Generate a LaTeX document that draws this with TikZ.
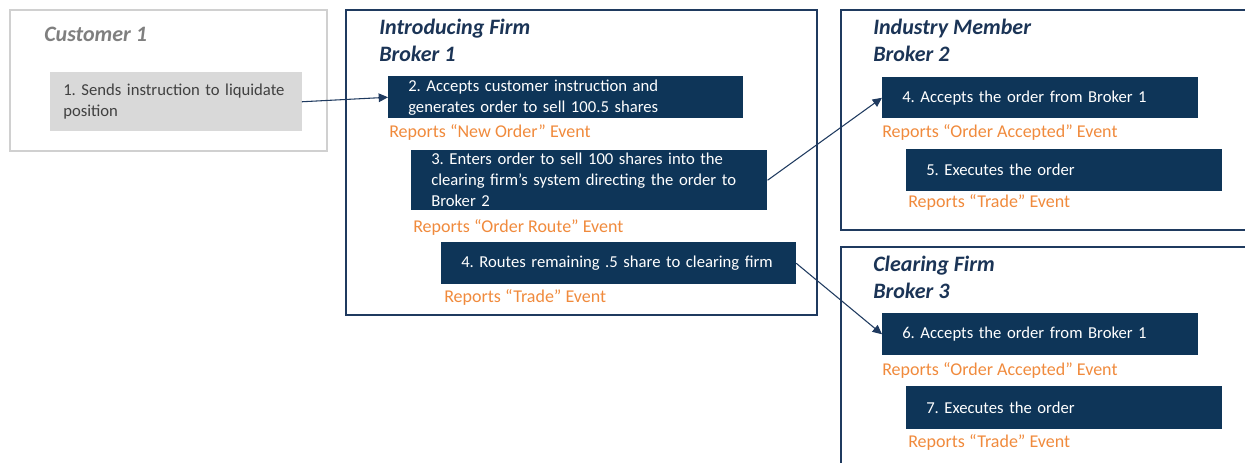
\documentclass[tikz,border=0pt]{standalone}
\usepackage{fontspec}
\setmainfont{Carlito}
\usetikzlibrary{arrows.meta}

\definecolor{stepnavy}{HTML}{0E3558}
\definecolor{framenavy}{HTML}{1F3A5F}
\definecolor{titlenavy}{HTML}{1B3456}
\definecolor{reportorange}{HTML}{F08A3C}
\definecolor{custfill}{HTML}{D9D9D9}
\definecolor{custline}{HTML}{D0D0D0}
\definecolor{custtitle}{HTML}{7F7F7F}
\definecolor{custtext}{HTML}{404040}

\frenchspacing

\begin{document}
\begin{tikzpicture}[
        x=0.75pt, y=-0.75pt,
        every node/.style={
            inner sep=0pt,
            font=\fontsize{12.5}{15.75}\selectfont
        },
        stepbox/.style={
            fill=stepnavy,
            text=white,
            align=left,
            anchor=north west,
            inner xsep=15pt
        },
        custbox/.style={
            fill=custfill,
            text=custtext,
            align=left,
            anchor=north west,
            inner xsep=9.75pt
        },
        firmtitle/.style={
            anchor=north west,
            align=left,
            text=titlenavy,
            font=\fontsize{16.5}{20.25}\selectfont\bfseries\itshape
        },
        report/.style={
            anchor=base west,
            text=reportorange,
            font=\fontsize{13.5}{16}\selectfont
        },
        firmframe/.style={draw=framenavy, line width=1.5pt},
        flow/.style={draw=framenavy, line width=0.8pt, -{Triangle[length=7pt,width=6.5pt]}}
    ]

    \useasboundingbox (0,0) rectangle (1245,463);
    \clip (0,0) rectangle (1245,463);

    % Cadres
    \draw[draw=custline, line width=1.5pt] (10,10) rectangle (327,151);
    \draw[firmframe] (346,10) rectangle (817,315);
    \draw[firmframe] (841,10) rectangle (1270,230);
    \draw[firmframe] (841,247) rectangle (1270,490);

    % Titres
    \node[firmtitle, anchor=base west, text=custtitle] (tc) at (44,42) {Customer 1};
    \node[firmtitle] (t1) at (379,19) {Introducing Firm\\Broker 1};
    \node[firmtitle] (t2) at (873,19) {Industry Member\\Broker 2};
    \node[firmtitle] (t3) at (873,256) {Clearing Firm\\Broker 3};

    % Etapes
    \node[custbox, text width=169pt, minimum height=44.25pt] (c1) at (50,72)
        {1. Sends instruction to liquidate\\position};
    \node[stepbox, text width=236pt, minimum height=31.5pt] (b1a) at (388,76)
        {2. Accepts customer instruction and\\generates order to sell 100.5 shares};
    \node[stepbox, text width=237pt, minimum height=45pt] (b1b) at (411,150)
        {3. Enters order to sell 100 shares into the\\clearing firm's system directing the order to\\Broker 2};
    \node[stepbox, text width=236pt, minimum height=31.5pt] (b1c) at (441,242)
        {4. Routes remaining .5 share to clearing firm};
    \node[stepbox, text width=207pt, minimum height=30.75pt] (b2a) at (882,77)
        {4. Accepts the order from Broker 1};
    \node[stepbox, text width=207pt, minimum height=31.5pt] (b2b) at (906,149)
        {5. Executes the order};
    \node[stepbox, text width=207pt, minimum height=31.5pt] (b3a) at (882,313)
        {6. Accepts the order from Broker 1};
    \node[stepbox, text width=207pt, minimum height=32pt] (b3b) at (906,386)
        {7. Executes the order};

    % Rapports
    \node[report] (r1a) at (389,138) {Reports ``New Order'' Event};
    \node[report] (r1b) at (413,233) {Reports ``Order Route'' Event};
    \node[report] (r1c) at (444,302) {Reports ``Trade'' Event};
    \node[report] (r2a) at (882,138) {Reports ``Order Accepted'' Event};
    \node[report] (r2b) at (908,208) {Reports ``Trade'' Event};
    \node[report] (r3a) at (882,375) {Reports ``Order Accepted'' Event};
    \node[report] (r3b) at (908,447) {Reports ``Trade'' Event};

    % Fleches
    \draw[flow] (c1.east) -- (b1a.west);
    \draw[flow] (b1b.east) -- (b2a.west);
    \draw[flow] (b1c.east) -- (b3a.west);

\end{tikzpicture}
\end{document}
